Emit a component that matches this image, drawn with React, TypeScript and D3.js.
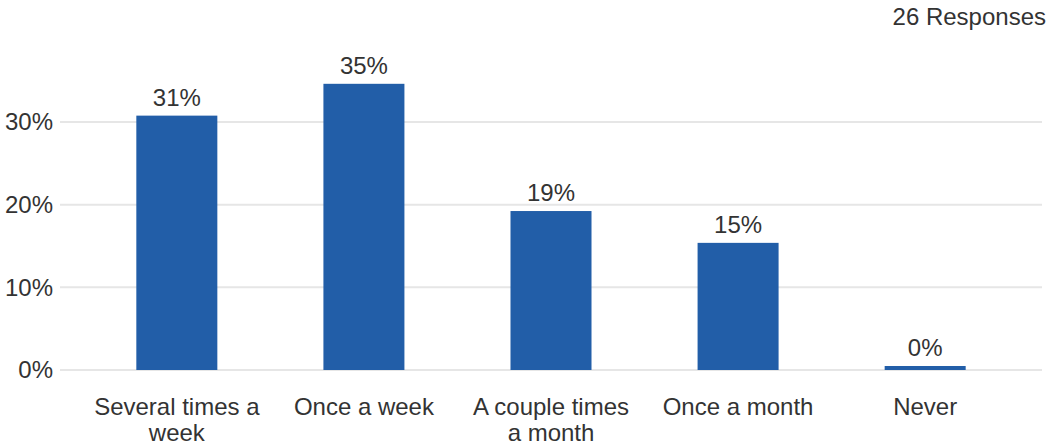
import React, { useEffect, useRef } from "react";
import * as d3 from "d3";

const categories = ["Several times a week", "Once a week", "A couple times a month", "Once a month", "Never"];
const percentValues = [30.77, 34.62, 19.23, 15.38, 0];
const valueLabels = ["31%", "35%", "19%", "15%", "0%"];
const yTicks = [0, 10, 20, 30];
const responsesLabel = "26 Responses";

const W = 1061;
const H = 444;
const FONT = "'Liberation Sans', Arial, sans-serif";
const BAR = "#225EA8";
const TEXT = "#333333";
const FS = 24;

export default function App() {
  const ref = useRef<SVGSVGElement | null>(null);

  useEffect(() => {
    const svg = d3.select(ref.current);
    svg.selectAll("*").remove();

    const left = 60, right = 1042, bottom = 370;
    const y = d3.scaleLinear().domain([0, 30]).range([bottom, 122]);
    const x = d3.scaleBand<string>().domain(categories).range([left, right]).paddingInner(0.567).paddingOuter(0.408);

    const g = svg.append("g");

    g.selectAll("line.grid").data(yTicks).enter().append("line")
      .attr("x1", left).attr("x2", right)
      .attr("y1", (d) => y(d)).attr("y2", (d) => y(d))
      .attr("stroke", "#e6e6e6").attr("stroke-width", 2);

    g.selectAll("text.ytick").data(yTicks).enter().append("text")
      .attr("x", 53).attr("y", (d) => y(d)).attr("dy", "0.35em")
      .attr("text-anchor", "end").attr("font-family", FONT).attr("font-size", FS).attr("fill", TEXT)
      .text((d) => `${d}%`);

    const minH = 4;
    g.selectAll("rect.bar").data(percentValues).enter().append("rect")
      .attr("x", (_d, i) => x(categories[i])!)
      .attr("width", x.bandwidth())
      .attr("y", (d) => Math.min(y(d), bottom - minH))
      .attr("height", (d) => Math.max(bottom - y(d), minH))
      .attr("fill", BAR);

    g.selectAll("text.val").data(percentValues).enter().append("text")
      .attr("x", (_d, i) => x(categories[i])! + x.bandwidth() / 2)
      .attr("y", (d) => Math.min(y(d), bottom - minH) - 10)
      .attr("text-anchor", "middle").attr("font-family", FONT).attr("font-size", FS).attr("fill", TEXT)
      .text((_d, i) => valueLabels[i]);

    const maxW = 170;
    categories.forEach((c) => {
      const cx = x(c)! + x.bandwidth() / 2;
      const t = g.append("text")
        .attr("x", cx)
        .attr("y", 415)
        .attr("text-anchor", "middle").attr("font-family", FONT).attr("font-size", FS).attr("fill", TEXT);
      const words = c.split(" ");
      let line: string[] = [];
      let ts = t.append("tspan").attr("x", cx).attr("dy", 0);
      for (const w of words) {
        line.push(w);
        ts.text(line.join(" "));
        if ((ts.node() as SVGTSpanElement).getComputedTextLength() > maxW && line.length > 1) {
          line.pop();
          ts.text(line.join(" "));
          line = [w];
          ts = t.append("tspan").attr("x", cx).attr("dy", 26).text(w);
        }
      }
    });

    svg.append("text")
      .attr("x", 1046).attr("y", 25)
      .attr("text-anchor", "end").attr("font-family", FONT).attr("font-size", FS).attr("fill", TEXT)
      .text(responsesLabel);
  }, []);

  return (
    <svg ref={ref} width={W} height={H} style={{ position: "absolute", left: 0, top: 0, background: "#fff" }} />
  );
}
